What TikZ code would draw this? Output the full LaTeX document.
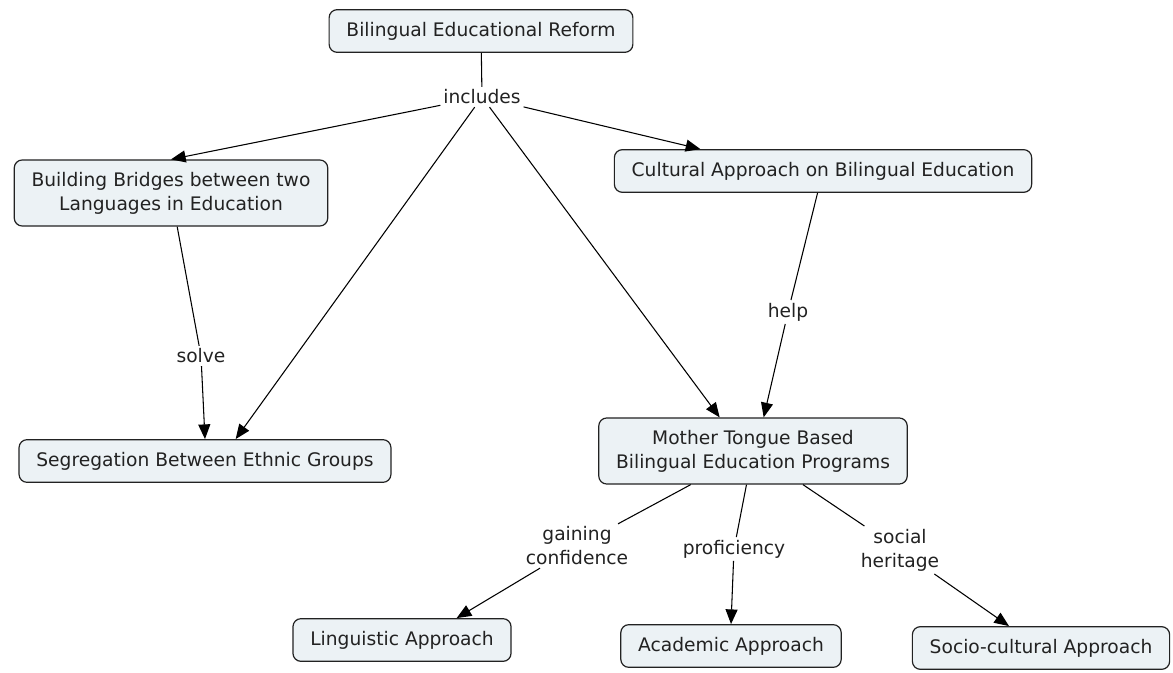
\documentclass[tikz,border=0pt]{standalone}
\usepackage{fontspec}
\setmainfont{DejaVu Sans}
\usepackage{xcolor}
\usepackage{tikz}
\usetikzlibrary{arrows.meta,positioning}
\definecolor{boxfill}{RGB}{236,242,245}
\definecolor{inkgray}{RGB}{34,34,34}

\begin{document}
\begin{tikzpicture}[
  x=0.75pt, y=-0.75pt,
  font=\fontsize{14}{18}\selectfont,
  every node/.style={align=center, text=inkgray},
  box/.style={draw=inkgray, line width=0.9pt, rounded corners=6pt, fill=boxfill, minimum height=32pt, inner xsep=13pt, inner ysep=9pt},
  lbl/.style={inner sep=2pt},
  link/.style={line width=0.8pt, draw=black},
  arr/.style={link, -{Triangle[length=11pt, width=9pt]}}
]
\useasboundingbox (0,0) rectangle (1173,673);
% concepts
\node[box] (reform) at (481,31) {Bilingual Educational Reform};
\node[box] (bridges) at (171,193) {Building Bridges between two\\Languages in Education};
\node[box] (cultural) at (823,171) {Cultural Approach on Bilingual Education};
\node[box] (segreg) at (205,461) {Segregation Between Ethnic Groups};
\node[box] (mother) at (753,451) {Mother Tongue Based\\Bilingual Education Programs};
\node[box] (ling) at (402,640) {Linguistic Approach};
\node[box] (acad) at (731,646) {Academic Approach};
\node[box] (socio) at (1041,648) {Socio-cultural Approach};
% linking phrases
\node[lbl] (incl) at (482,97) {includes};
\node[lbl] (solve) at (201,356) {solve};
\node[lbl] (help) at (788,312) {help};
\node[lbl] (gain) at (577,546) {gaining\\confidence};
\node[lbl] (prof) at (734,549) {proficiency};
\node[lbl] (herit) at (900,550) {social\\heritage};
% links
\draw[link] (reform) -- (incl);
\draw[arr] (incl) -- (bridges.north);
\draw[arr] (incl) -- ([xshift=-92pt]cultural.north);
\draw[arr] (incl) -- ([xshift=23pt]segreg.north);
\draw[arr] (incl) -- ([xshift=-25pt]mother.north);
\draw[link] (bridges) -- (solve);
\draw[arr] (solve) -- (segreg.north);
\draw[link] (cultural) -- (help);
\draw[arr] (help) -- ([xshift=8pt]mother.north);
\draw[link] (mother) -- (gain);
\draw[arr] (gain) -- ([xshift=41pt]ling.north);
\draw[link] (mother) -- (prof);
\draw[arr] (prof) -- (acad.north);
\draw[link] (mother) -- (herit);
\draw[arr] (herit) -- ([xshift=-24pt]socio.north);
\end{tikzpicture}
\end{document}
